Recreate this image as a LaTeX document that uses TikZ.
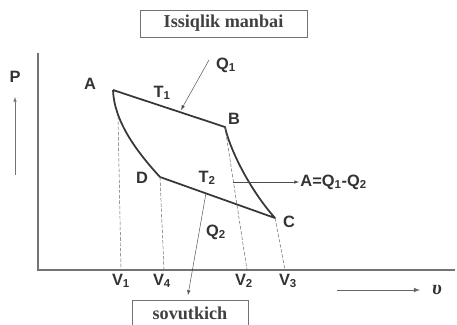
\documentclass[tikz,border=0pt]{standalone}
\usepackage{fontspec}
\setmainfont{Liberation Serif}
\setsansfont{Liberation Sans}

\begin{document}
\begin{tikzpicture}[
    x=0.03cm, y=-0.03cm,
    lbl/.style={font=\sffamily\bfseries\fontsize{14}{16}\selectfont, text=black!80, inner sep=1pt},
    tank/.style={draw=black!55, thin, fill=white, text=black!75,
        font=\bfseries\fontsize{15.5}{17}\selectfont},
    cycleline/.style={draw=black!78, line width=1.5pt, line join=round},
    guide/.style={draw=black!62, thin, dash pattern=on 3pt off 1.5pt},
    heat/.style={draw=black!70, thin, -latex}
]
\useasboundingbox (0,0) rectangle (457,324);

% reservoirs
\node[tank, minimum width=5.01cm, minimum height=0.81cm] (source) at (223.5,23.5) {Issiqlik manbai};
\node[tank, minimum width=3.48cm, minimum height=0.78cm] (sink) at (190,313) {sovutkich};

% axes
\coordinate (ptop) at (38,53);
\coordinate (O) at (38,270);
\coordinate (vend) at (455,270);
\draw[draw=black!55, line width=0.9pt] (ptop) -- (O) -- (vend);

\node[lbl] (P) at (15,77) {P};
\coordinate (pbase) at (15,175);
\coordinate (ptip) at (15,97);
\draw[draw=black!55, thin, -latex] (pbase) -- (ptip);

\node[text=black!80, font=\bfseries\itshape\fontsize{17}{19}\selectfont] (v) at (437,290) {υ};
\coordinate (vbase) at (337,290);
\coordinate (vtip) at (420,290);
\draw[draw=black!60, line width=0.8pt, -latex] (vbase) -- (vtip);

% cycle
\coordinate (A) at (113,90);
\coordinate (B) at (225,127);
\coordinate (C) at (275,218);
\coordinate (D) at (160,177);
\draw[cycleline] (A) -- (B) .. controls (230,150) and (250,190) .. (C)
    -- (D) .. controls (135,150) and (114,120) .. (A);

\node[lbl] (lA) at (90,84) {A};
\node[lbl] (lB) at (234,119) {B};
\node[lbl] (lC) at (289,222) {C};
\node[lbl] (lD) at (142,178) {D};
\node[lbl] (T1) at (162,93) {T\textsubscript{1}};
\node[lbl] (T2) at (207,178) {T\textsubscript{2}};

% volumes
\coordinate (a1) at (118,116);
\coordinate (v1) at (121,270);
\coordinate (v4) at (164,270);
\coordinate (v2) at (247,270);
\coordinate (v3) at (285,270);
\draw[guide] (a1) -- (v1);
\draw[guide] (D) -- (v4);
\draw[guide] (B) -- (v2);
\draw[guide] (C) -- (v3);

\node[lbl] (V1) at (121,281) {V\textsubscript{1}};
\node[lbl] (V4) at (162,281) {V\textsubscript{4}};
\node[lbl] (V2) at (244,281) {V\textsubscript{2}};
\node[lbl] (V3) at (288,281) {V\textsubscript{3}};

% heat flows
\node[lbl] (Q1) at (226,65) {Q\textsubscript{1}};
\coordinate (q1top) at (209,60);
\coordinate (q1tip) at (181,110);
\draw[heat] (q1top) -- (q1tip);

\node[lbl] (Q2) at (216,232) {Q\textsubscript{2}};
\coordinate (q2top) at (206,193);
\coordinate (q2tip) at (188,295);
\draw[heat] (q2top) -- (q2tip);

% work
\node[lbl, anchor=west] (work) at (299,182) {A=Q\textsubscript{1}-Q\textsubscript{2}};
\coordinate (w) at (233,182);
\draw[heat] (w) -- (work.west);

\end{tikzpicture}
\end{document}
